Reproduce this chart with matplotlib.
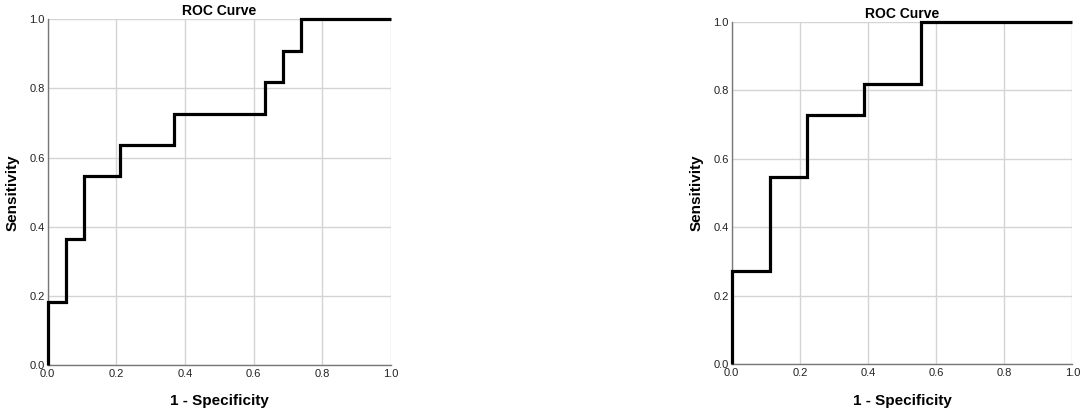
import matplotlib
matplotlib.use("Agg")
import matplotlib.pyplot as plt

# ROC step points (1 - specificity, sensitivity)
left_fpr = [0.0, 0.0, 0.0526, 0.1053, 0.2105, 0.3684, 0.6316, 0.6842, 0.7368, 1.0]
left_tpr = [0.0, 0.1818, 0.3636, 0.5455, 0.6364, 0.7273, 0.8182, 0.9091, 1.0, 1.0]

right_fpr = [0.0, 0.0, 0.1111, 0.2222, 0.3889, 0.5556, 1.0]
right_tpr = [0.0, 0.2727, 0.5455, 0.7273, 0.8182, 1.0, 1.0]

ticks = [0.0, 0.2, 0.4, 0.6, 0.8, 1.0]
tick_labels = ["0.0", "0.2", "0.4", "0.6", "0.8", "1.0"]

fig = plt.figure(figsize=(10.84, 4.12), dpi=100)
plt.rcParams['font.family'] = ['Liberation Sans', 'DejaVu Sans']

ax1 = fig.add_axes([0.044, 0.114, 0.3167, 0.839])
ax2 = fig.add_axes([0.675, 0.116, 0.3142, 0.831])


def draw_roc(ax, fpr, tpr):
    ax.plot(fpr, tpr, drawstyle='steps-post', color='black', lw=2.3,
            solid_joinstyle='miter', solid_capstyle='butt', zorder=3,
            clip_on=False)
    ax.set_xlim(0, 1)
    ax.set_ylim(0, 1)
    ax.set_xticks(ticks)
    ax.set_yticks(ticks)
    ax.set_xticklabels(tick_labels)
    ax.set_yticklabels(tick_labels)
    ax.grid(True, color='#d4d4d4', lw=1.0)
    ax.set_axisbelow(True)
    ax.tick_params(length=0, labelsize=8, colors='#222222')
    ax.tick_params(axis='x', pad=3)
    ax.tick_params(axis='y', pad=2)
    for s in ['top', 'right']:
        ax.spines[s].set_visible(False)
    for s in ['left', 'bottom']:
        ax.spines[s].set_color('#777777')
        ax.spines[s].set_linewidth(1.0)
    ax.set_title("ROC Curve", fontsize=10, fontweight='bold', pad=3)
    ax.set_xlabel("1 - Specificity", fontsize=11, fontweight='bold', labelpad=11)
    ax.set_ylabel("Sensitivity", fontsize=11, fontweight='bold', labelpad=7)


draw_roc(ax1, left_fpr, left_tpr)
draw_roc(ax2, right_fpr, right_tpr)

fig.savefig("out.png", dpi=100)
